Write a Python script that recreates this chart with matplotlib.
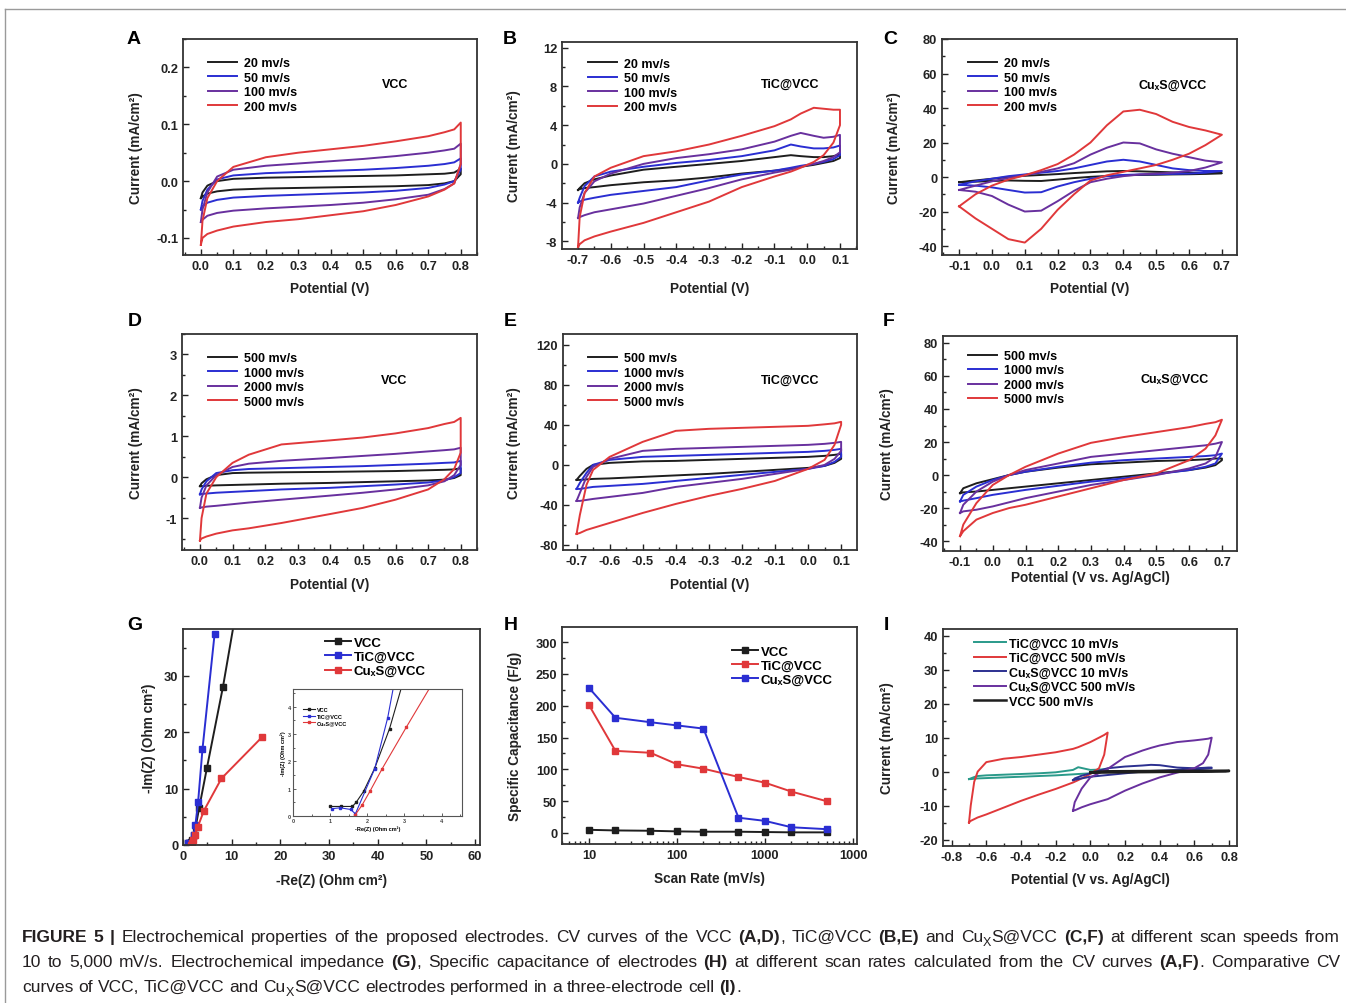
import numpy as np
import matplotlib
matplotlib.use('Agg')
import matplotlib.pyplot as plt
from matplotlib.ticker import MultipleLocator, FormatStrFormatter, FixedLocator, FixedFormatter, LogLocator, NullFormatter
from matplotlib import font_manager
from matplotlib.lines import Line2D

plt.rcParams['font.family'] = ['Liberation Sans', 'DejaVu Sans']
plt.rcParams['font.weight'] = 'bold'
plt.rcParams['axes.labelweight'] = 'bold'
plt.rcParams['axes.unicode_minus'] = False

BLACK = '#1e1e1e'
BLUE = '#2a2ed2'
PURPLE = '#68309e'
RED = '#e0383a'
TEAL = '#2a9a8a'
NAVY = '#2c3090'
cv_colors = [BLACK, BLUE, PURPLE, RED]

# ---------------- data ----------------
labels_slow = ['20 mv/s', '50 mv/s', '100 mv/s', '200 mv/s']
labels_fast = ['500 mv/s', '1000 mv/s', '2000 mv/s', '5000 mv/s']

# A: VCC, slow scans (anodic branch "up", cathodic branch "dn", both left->right)
A_E = [0.0, 0.005, 0.02, 0.05, 0.1, 0.2, 0.3, 0.4, 0.5, 0.6, 0.7, 0.75, 0.78, 0.8]
A_up = [[-0.03, -0.02, -0.008, 0.0, 0.004, 0.006, 0.007, 0.008, 0.009, 0.01, 0.012, 0.013, 0.015, 0.022],
        [-0.05, -0.035, -0.015, 0.003, 0.01, 0.014, 0.016, 0.018, 0.02, 0.023, 0.027, 0.03, 0.033, 0.04],
        [-0.072, -0.05, -0.02, 0.008, 0.02, 0.027, 0.031, 0.035, 0.039, 0.044, 0.05, 0.054, 0.057, 0.066],
        [-0.112, -0.07, -0.03, 0.0, 0.025, 0.042, 0.05, 0.056, 0.062, 0.07, 0.079, 0.086, 0.091, 0.103]]
A_dn = [[-0.03, -0.027, -0.022, -0.018, -0.015, -0.013, -0.012, -0.011, -0.01, -0.009, -0.007, -0.004, 0.0, 0.012],
        [-0.05, -0.045, -0.038, -0.033, -0.029, -0.026, -0.024, -0.022, -0.02, -0.017, -0.012, -0.006, 0.0, 0.02],
        [-0.072, -0.068, -0.061, -0.056, -0.052, -0.048, -0.045, -0.042, -0.038, -0.032, -0.024, -0.014, -0.004, 0.03],
        [-0.112, -0.1, -0.093, -0.087, -0.08, -0.072, -0.067, -0.06, -0.053, -0.042, -0.027, -0.015, -0.004, 0.03]]

# B: TiC@VCC, slow scans
B_E = [-0.7, -0.695, -0.68, -0.65, -0.6, -0.5, -0.4, -0.3, -0.2, -0.1, -0.05, -0.02, 0.02, 0.05, 0.08, 0.1]
B_up = [[-2.7, -2.5, -2.0, -1.6, -1.2, -0.6, -0.3, 0.0, 0.3, 0.7, 0.9, 0.8, 0.7, 0.7, 0.8, 1.0],
        [-4.0, -3.5, -2.3, -1.3, -0.8, -0.3, 0.1, 0.4, 0.8, 1.4, 2.0, 1.8, 1.6, 1.6, 1.7, 1.9],
        [-5.6, -4.5, -3.0, -1.8, -1.0, 0.0, 0.6, 1.0, 1.5, 2.3, 2.9, 3.2, 2.9, 2.7, 2.8, 3.0],
        [-8.6, -5.5, -3.0, -1.3, -0.4, 0.8, 1.3, 2.0, 2.9, 3.9, 4.6, 5.2, 5.8, 5.7, 5.6, 5.6]]
B_dn = [[-2.7, -2.6, -2.5, -2.4, -2.2, -1.9, -1.7, -1.4, -1.0, -0.7, -0.5, -0.3, -0.1, 0.1, 0.3, 0.6],
        [-4.0, -3.9, -3.7, -3.5, -3.2, -2.8, -2.4, -1.7, -1.1, -0.7, -0.4, -0.2, 0.0, 0.2, 0.5, 0.9],
        [-5.6, -5.5, -5.3, -5.0, -4.7, -4.1, -3.3, -2.5, -1.6, -0.9, -0.6, -0.3, 0.0, 0.3, 0.7, 1.2],
        [-8.6, -8.3, -7.9, -7.5, -7.0, -6.1, -5.0, -3.9, -2.4, -1.3, -0.8, -0.4, 0.2, 0.9, 2.2, 4.0]]

# C: CuxS@VCC, slow scans
C_E = [-0.1, -0.05, 0.0, 0.05, 0.1, 0.15, 0.2, 0.25, 0.3, 0.35, 0.4, 0.45, 0.5, 0.55, 0.6, 0.65, 0.7]
C_up = [[-3, -2, -1, 0, 0.7, 1.2, 1.7, 2.3, 2.8, 3.3, 3.5, 3.3, 3.0, 2.7, 2.5, 2.3, 2.2],
        [-4.5, -2.5, -1.0, 0.5, 1.5, 2.5, 3.5, 5.0, 7.0, 9.0, 10.0, 9.0, 7.0, 5.0, 4.0, 3.5, 3.5],
        [-7.5, -5, -2.5, -0.5, 1.0, 3, 5, 8, 13, 17, 20, 19.5, 16, 13.5, 11.5, 9.5, 8.5],
        [-17, -10, -5, -1.5, 1.0, 4.0, 7.5, 13, 20, 30, 38, 39, 36.5, 32, 29, 27, 24.5]]
C_dn = [[-3, -2.7, -2.3, -2.0, -2.2, -2.3, -1.5, -0.6, 0.1, 0.6, 1.0, 1.2, 1.3, 1.5, 1.6, 1.8, 2.2],
        [-4.5, -5.0, -6.0, -7.5, -9.0, -8.8, -5.5, -3.0, -1.0, 0.5, 1.2, 1.5, 1.6, 1.8, 2.0, 2.5, 3.5],
        [-7.5, -8.5, -11, -16, -20, -19.5, -14, -8, -3, -1, 0.5, 1.5, 2, 2.5, 3.5, 5.5, 8.5],
        [-17, -24, -30, -36, -38, -30, -19, -10, -2, 1, 3, 5, 7, 10, 13.5, 18.5, 24.5]]

# D: VCC, fast scans
D_E = [0.0, 0.005, 0.02, 0.05, 0.1, 0.15, 0.25, 0.4, 0.5, 0.6, 0.7, 0.75, 0.78, 0.8]
D_up = [[-0.22, -0.15, -0.05, 0.05, 0.1, 0.11, 0.12, 0.13, 0.14, 0.15, 0.17, 0.18, 0.19, 0.22],
        [-0.42, -0.3, -0.1, 0.1, 0.17, 0.2, 0.22, 0.25, 0.27, 0.3, 0.33, 0.35, 0.36, 0.4],
        [-0.75, -0.5, -0.2, 0.05, 0.25, 0.33, 0.4, 0.47, 0.52, 0.57, 0.63, 0.66, 0.68, 0.72],
        [-1.55, -1.0, -0.4, 0.0, 0.35, 0.55, 0.8, 0.9, 0.97, 1.07, 1.2, 1.3, 1.35, 1.45]]
D_dn = [[-0.22, -0.22, -0.21, -0.2, -0.19, -0.18, -0.16, -0.14, -0.12, -0.1, -0.08, -0.06, -0.02, 0.05],
        [-0.42, -0.41, -0.4, -0.38, -0.36, -0.34, -0.3, -0.26, -0.22, -0.18, -0.13, -0.08, 0.0, 0.1],
        [-0.75, -0.74, -0.72, -0.7, -0.66, -0.62, -0.55, -0.45, -0.38, -0.3, -0.2, -0.1, 0.05, 0.3],
        [-1.55, -1.5, -1.45, -1.38, -1.3, -1.25, -1.12, -0.9, -0.75, -0.55, -0.3, -0.05, 0.2, 0.6]]

# E: TiC@VCC, fast scans
E_E = [-0.7, -0.69, -0.67, -0.65, -0.6, -0.5, -0.4, -0.3, -0.2, -0.1, 0.0, 0.05, 0.08, 0.1]
E_up = [[-15, -11, -4, 0, 2, 3.5, 4, 5, 6, 7, 8, 9, 10, 11],
        [-24, -18, -8, 0, 5, 8, 9, 10, 11, 12, 13, 14, 15, 16],
        [-36, -28, -12, -2, 6, 14, 16, 17, 18, 19, 20, 21, 22, 23],
        [-69, -50, -20, -5, 8, 23, 34, 36, 37, 38, 39, 40.5, 41.5, 43]]
E_dn = [[-15, -15, -14.5, -14, -13.5, -12, -10.5, -9, -7, -5, -3, -1, 2, 6],
        [-24, -24, -23, -22, -21, -19, -16, -13, -10, -7, -4, -1, 3, 8],
        [-36, -36, -35, -34, -32, -28, -22, -18, -14, -9, -4, 0, 6, 14],
        [-69, -68, -65, -63, -58, -48, -39, -31, -24, -16, -4, 5, 20, 40]]

# F: CuxS@VCC, fast scans
F_E = [-0.1, -0.09, -0.05, 0.0, 0.05, 0.1, 0.2, 0.3, 0.4, 0.5, 0.6, 0.65, 0.68, 0.7]
F_up = [[-11, -8, -5, -2.5, 0, 2, 4.5, 6.5, 7.5, 8.5, 9, 9.5, 10, 10],
        [-16, -12, -7, -3, 0, 2, 5, 7.5, 9, 10, 11, 11.5, 12, 13],
        [-23, -18, -10, -4, 0, 3, 7, 11, 13, 15, 17, 18, 19, 20],
        [-37, -30, -17, -6, 0, 5, 13, 19.5, 23, 26, 29, 31, 32, 33.5]]
F_dn = [[-11, -10.5, -10, -9, -8, -7, -5, -3, -1, 1, 3, 4.5, 6, 9],
        [-16, -15.5, -14, -12, -10.5, -9, -6.5, -4, -2, 0.5, 3, 5, 7, 13],
        [-23, -22, -21, -19, -16.5, -14, -10, -6, -3, 0, 4, 7, 11, 20],
        [-37, -34, -27, -23, -20, -18, -13, -8, -3, 1, 9, 16, 24, 33.5]]

# G: Nyquist
G_names = ['VCC', 'TiC@VCC', 'CuₓS@VCC']
G_colors = [BLACK, BLUE, RED]
G_re = [[1.0, 1.3, 1.6, 1.7, 1.9, 2.2, 2.6, 3.3, 4.9, 8.2, 10.6],
        [1.05, 1.27, 1.55, 1.68, 2.2, 2.55, 3.1, 4.0, 6.5],
        [1.68, 1.86, 2.07, 2.4, 3.05, 4.3, 7.9, 16.2]]
G_im = [[0.35, 0.35, 0.35, 0.5, 0.9, 1.75, 3.2, 6.5, 13.6, 28.0, 40.0],
        [0.27, 0.3, 0.24, 0.08, 1.73, 3.6, 7.6, 17.0, 37.5],
        [0.05, 0.4, 0.9, 1.73, 3.25, 6.1, 11.8, 19.1]]

# H: specific capacitance
H_rate = [10, 20, 50, 100, 200, 500, 1000, 2000, 5000]
H_names = ['VCC', 'TiC@VCC', 'CuₓS@VCC']
H_colors = [BLACK, RED, BLUE]
H_cap = [[5, 4, 3.5, 2.5, 2, 2, 1.5, 1, 1],
         [201, 129, 126, 108, 101, 88, 79, 65, 50],
         [228, 181, 174, 169, 164, 24, 19, 9, 6]]
H_xticks = [10, 100, 1000, 10000]
H_xticklabels = ['10', '100', '1000', '1000']

# I: comparison
I_tic_E = [-0.7, -0.69, -0.67, -0.65, -0.6, -0.5, -0.4, -0.3, -0.2, -0.1, -0.07, 0.0, 0.05, 0.08, 0.1]
I_tic10_up = [-2.2, -2.0, -1.6, -1.3, -1.1, -0.9, -0.7, -0.5, -0.2, 0.5, 1.3, 0.5, 0.6, 0.7, 0.8]
I_tic10_dn = [-2.2, -2.2, -2.1, -2.0, -1.9, -1.7, -1.5, -1.3, -1.1, -0.8, -0.7, -0.5, -0.2, 0.0, 0.3]
I_tic500_up = [-15, -10, -3, 0, 2.8, 3.8, 4.3, 5.0, 5.7, 6.7, 7.2, 8.7, 10.0, 10.8, 11.5]
I_tic500_dn = [-15, -14.5, -14, -13.5, -12.6, -10.6, -8.6, -6.8, -5.1, -3.2, -2.5, -0.7, 1.0, 5.0, 11.5]
I_cu_E = [-0.1, -0.09, -0.05, 0.0, 0.1, 0.2, 0.3, 0.35, 0.4, 0.5, 0.6, 0.65, 0.68, 0.7]
I_cu10_up = [-2.5, -2.0, -1.2, -0.5, 1.0, 1.5, 1.8, 2.0, 1.9, 1.2, 1.0, 1.1, 1.2, 1.2]
I_cu10_dn = [-2.5, -2.4, -2.0, -1.5, -1.0, -0.5, 0.0, 0.2, 0.3, 0.5, 0.7, 0.8, 0.9, 1.0]
I_cu500_up = [-11.5, -9, -5, -1.7, 0.8, 4.3, 6.2, 7.0, 7.7, 8.7, 9.2, 9.5, 9.7, 10.0]
I_cu500_dn = [-11.5, -11.4, -10.5, -9.6, -8.1, -5.6, -3.5, -2.6, -1.7, -0.3, 1.0, 2.5, 5.0, 10.0]
I_vcc_E = [0.0, 0.02, 0.1, 0.4, 0.7, 0.78, 0.8]
I_vcc500_up = [-0.3, -0.1, 0.1, 0.2, 0.25, 0.28, 0.3]
I_vcc500_dn = [-0.3, -0.3, -0.25, -0.1, 0.0, 0.05, 0.15]
I_labels = ['TiC@VCC 10 mV/s', 'TiC@VCC 500 mV/s', 'CuₓS@VCC 10 mV/s', 'CuₓS@VCC 500 mV/s', 'VCC 500 mV/s']

# ---------------- figure ----------------
W, H = 1346, 1004
fig = plt.figure(figsize=(W / 100, H / 100), dpi=100)
fig.patch.set_facecolor('white')

# page frame
fig.add_artist(Line2D([5 / W, 1], [1 - 10 / H, 1 - 10 / H], color='#9a9a9a', lw=1))
fig.add_artist(Line2D([5 / W, 5 / W], [1 - 10 / H, 0], color='#9a9a9a', lw=1))

LW = 1.4


def add_ax(box):
    x0, y0, x1, y1 = box
    ax = fig.add_axes([x0 / W, 1 - y1 / H, (x1 - x0) / W, (y1 - y0) / H])
    for s in ax.spines.values():
        s.set_linewidth(1.3)
        s.set_color('#333333')
    ax.tick_params(which='both', direction='in', top=False, right=False,
                   labelsize=9.3, width=1, colors='#222222')
    ax.tick_params(which='major', length=4)
    ax.tick_params(which='minor', length=2.5)
    return ax


def set_labels(ax, box, xlabel, ylabel, xlab_y, ylab_x, size=9.8):
    x0, y0, x1, y1 = box
    ax.set_xlabel(xlabel, fontsize=size, color='#222222')
    ax.set_ylabel(ylabel, fontsize=size, color='#222222')
    ax.xaxis.set_label_coords(0.5, (y1 - (xlab_y - 6)) / (y1 - y0))
    ax.yaxis.set_label_coords(((ylab_x + 6) - x0) / (x1 - x0), 0.5)


def ticks(ax, xlim, ylim, xmaj, xmin, ymaj, ymin, xfmt, yfmt):
    ax.set_xlim(*xlim)
    ax.set_ylim(*ylim)
    ax.xaxis.set_major_locator(MultipleLocator(xmaj))
    ax.xaxis.set_minor_locator(MultipleLocator(xmin))
    ax.yaxis.set_major_locator(MultipleLocator(ymaj))
    ax.yaxis.set_minor_locator(MultipleLocator(ymin))
    ax.xaxis.set_major_formatter(FormatStrFormatter(xfmt))
    ax.yaxis.set_major_formatter(FormatStrFormatter(yfmt))


def cv(ax, E, up, dn, color, label, lw=LW):
    x = list(E) + list(E[::-1]) + [E[0]]
    y = list(up) + list(dn[::-1]) + [up[0]]
    ax.plot(x, y, color=color, lw=lw, label=label, solid_joinstyle='round')


def letter(x, y, s):
    fig.text(x / W, 1 - y / H, s, fontsize=14, weight='bold', ha='center', va='center')


def cv_panel(box, E, ups, dns, labels, tag, tag_xy, leg_xy):
    ax = add_ax(box)
    for up, dn, c, lab in zip(ups, dns, cv_colors, labels):
        cv(ax, E, up, dn, c, lab)
    ax.legend(loc='upper left', bbox_to_anchor=leg_xy, frameon=False, fontsize=9,
              handlelength=2.3, labelspacing=0.2, borderaxespad=0, borderpad=0,
              handletextpad=0.6)
    ax.text(tag_xy[0], tag_xy[1], tag, transform=ax.transAxes, fontsize=9,
            weight='bold', ha='center', va='center')
    return ax


boxes = {'A': (183, 40, 477, 256), 'B': (562, 43, 857, 250), 'C': (942, 40, 1237, 256),
         'D': (182, 335, 477, 551), 'E': (563, 335, 857, 551), 'F': (943, 337, 1237, 552),
         'G': (183, 630, 480, 846), 'H': (562, 628, 857, 845), 'I': (943, 630, 1237, 847)}

cur = 'Current (mA/cm²)'

# A
ax = cv_panel(boxes['A'], A_E, A_up, A_dn, labels_slow, 'VCC', (0.72, 0.79), (0.085, 0.915))
ticks(ax, (-0.055, 0.85), (-0.13, 0.25), 0.1, 0.05, 0.1, 0.05, '%.1f', '%.1f')
set_labels(ax, boxes['A'], 'Potential (V)', cur, 288, 137)
letter(134, 40, 'A')

# B
ax = cv_panel(boxes['B'], B_E, B_up, B_dn, labels_slow, 'TiC@VCC', (0.773, 0.797), (0.088, 0.925))
ticks(ax, (-0.749, 0.152), (-8.8, 12.6), 0.1, 0.05, 4, 2, '%.1f', '%d')
set_labels(ax, boxes['B'], 'Potential (V)', cur, 288, 515)
letter(510, 40, 'B')

# C
ax = cv_panel(boxes['C'], C_E, C_up, C_dn, labels_slow, 'CuₓS@VCC', (0.783, 0.79), (0.088, 0.915))
ticks(ax, (-0.152, 0.746), (-45.2, 80), 0.1, 0.05, 20, 10, '%.1f', '%d')
set_labels(ax, boxes['C'], 'Potential (V)', cur, 288, 895)
letter(890, 40, 'C')

# D
ax = cv_panel(boxes['D'], D_E, D_up, D_dn, labels_fast, 'VCC', (0.72, 0.787), (0.088, 0.915))
ticks(ax, (-0.055, 0.85), (-1.78, 3.5), 0.1, 0.05, 1, 0.5, '%.1f', '%d')
set_labels(ax, boxes['D'], 'Potential (V)', cur, 584, 137)
letter(135, 322, 'D')

# E
ax = cv_panel(boxes['E'], E_E, E_up, E_dn, labels_fast, 'TiC@VCC', (0.772, 0.787), (0.085, 0.915))
ticks(ax, (-0.741, 0.148), (-85, 130.7), 0.1, 0.05, 40, 20, '%.1f', '%d')
set_labels(ax, boxes['E'], 'Potential (V)', cur, 584, 515)
letter(510, 322, 'E')

# F
ax = cv_panel(boxes['F'], F_E, F_up, F_dn, labels_fast, 'CuₓS@VCC', (0.789, 0.8), (0.085, 0.935))
ticks(ax, (-0.152, 0.746), (-46, 84.2), 0.1, 0.05, 20, 10, '%.1f', '%d')
set_labels(ax, boxes['F'], 'Potential (V vs. Ag/AgCl)', cur, 577, 888)
letter(889, 322, 'F')

# G
ax = add_ax(boxes['G'])
for re, im, c, name in zip(G_re, G_im, G_colors, G_names):
    ax.plot(re, im, color=c, lw=LW, marker='s', ms=4, label=name)
ticks(ax, (0, 61), (0, 38.3), 10, 5, 10, 5, '%d', '%d')
ax.legend(loc='upper left', bbox_to_anchor=(0.478, 0.965), frameon=False, fontsize=9.5,
          handlelength=2.0, labelspacing=0.15, borderaxespad=0, borderpad=0,
          handletextpad=0.2, numpoints=1)
set_labels(ax, boxes['G'], '-Re(Z) (Ohm cm²)', '-Im(Z) (Ohm cm²)', 880, 150)
letter(135, 626, 'G')

ibox = (293, 690, 462, 817)
ia = fig.add_axes([ibox[0] / W, 1 - ibox[3] / H, (ibox[2] - ibox[0]) / W, (ibox[3] - ibox[1]) / H])
for re, im, c, name in zip(G_re, G_im, G_colors, G_names):
    ia.plot(re, im, color=c, lw=0.8, marker='s', ms=1.8, label=name)
ia.set_xlim(0, 4.55)
ia.set_ylim(0, 4.65)
ia.xaxis.set_major_locator(MultipleLocator(1))
ia.xaxis.set_minor_locator(MultipleLocator(0.5))
ia.yaxis.set_major_locator(MultipleLocator(1))
ia.yaxis.set_minor_locator(MultipleLocator(0.5))
ia.tick_params(which='both', direction='in', top=False, right=False, labelsize=4,
               width=0.6, pad=1.5, colors='#444444')
ia.tick_params(which='major', length=2.5)
ia.tick_params(which='minor', length=1.5)
for s in ia.spines.values():
    s.set_linewidth(0.8)
    s.set_color('#555555')
ia.set_xlabel('-Re(Z) (Ohm cm²)', fontsize=4, labelpad=1.5)
ia.set_ylabel('-Im(Z) (Ohm cm²)', fontsize=4, labelpad=1.5)
ia.legend(loc='upper left', bbox_to_anchor=(0.06, 0.86), frameon=False, fontsize=4,
          handlelength=2.2, labelspacing=0.3, borderaxespad=0, borderpad=0,
          handletextpad=0.3, numpoints=1)

# H
ax = add_ax(boxes['H'])
for cap, c, name in zip(H_cap, H_colors, H_names):
    ax.plot(H_rate, cap, color=c, lw=LW, marker='s', ms=4, label=name)
ax.set_xscale('log')
ax.set_xlim(4.94, 11100)
ax.set_ylim(-17.3, 323.6)
ax.xaxis.set_major_locator(FixedLocator(H_xticks))
ax.xaxis.set_major_formatter(FixedFormatter(H_xticklabels))
ax.xaxis.set_minor_locator(LogLocator(base=10, subs=np.arange(2, 10)))
ax.xaxis.set_minor_formatter(NullFormatter())
ax.yaxis.set_major_locator(MultipleLocator(50))
ax.yaxis.set_minor_locator(MultipleLocator(25))
ax.yaxis.set_major_formatter(FormatStrFormatter('%d'))
ax.legend(loc='upper left', bbox_to_anchor=(0.575, 0.915), frameon=False, fontsize=9.5,
          handlelength=2.0, labelspacing=0.15, borderaxespad=0, borderpad=0,
          handletextpad=0.2, numpoints=1)
set_labels(ax, boxes['H'], 'Scan Rate (mV/s)', 'Specific Capacitance (F/g)', 878, 516)
letter(511, 626, 'H')

# I
ax = add_ax(boxes['I'])
cv(ax, I_tic_E, I_tic10_up, I_tic10_dn, TEAL, I_labels[0])
cv(ax, I_tic_E, I_tic500_up, I_tic500_dn, RED, I_labels[1])
cv(ax, I_cu_E, I_cu10_up, I_cu10_dn, NAVY, I_labels[2])
cv(ax, I_cu_E, I_cu500_up, I_cu500_dn, PURPLE, I_labels[3])
cv(ax, I_vcc_E, I_vcc500_up, I_vcc500_dn, BLACK, I_labels[4], lw=1.8)
ticks(ax, (-0.85, 0.846), (-21.9, 42), 0.2, 0.1, 10, 5, '%.1f', '%d')
ax.legend(loc='upper left', bbox_to_anchor=(0.105, 0.96), frameon=False, fontsize=9,
          handlelength=2.6, labelspacing=0.2, borderaxespad=0, borderpad=0,
          handletextpad=0.2)
set_labels(ax, boxes['I'], 'Potential (V vs. Ag/AgCl)', cur, 879, 888)
letter(886, 626, 'I')

# ---------------- caption ----------------
cap_lines = [
    "**FIGURE 5 |** Electrochemical properties of the proposed electrodes. CV curves of the VCC **(A,D)**, "
    "TiC@VCC **(B,E)** and Cu_XS@VCC **(C,F)** at different scan speeds from",
    "10 to 5,000 mV/s. Electrochemical impedance **(G)**, Specific capacitance of electrodes **(H)** at "
    "different scan rates calculated from the CV curves **(A,F)**. Comparative CV",
    "curves of VCC, TiC@VCC and Cu_XS@VCC electrodes performed in a three-electrode cell **(I)**.",
]
cap_base = [942, 967, 992]
cap_left, cap_right = 22, 1340

names = {f.name for f in font_manager.fontManager.ttflist}
cap_family = 'Liberation Sans Narrow' if 'Liberation Sans Narrow' in names else 'Liberation Sans'


def parse_line(s):
    words = []
    bold = False
    for w in s.split(' '):
        runs = []
        parts = w.split('**')
        for i, p in enumerate(parts):
            if i > 0:
                bold = not bold
            if p:
                sub = p.split('_X')
                for j, q in enumerate(sub):
                    if j > 0:
                        runs.append(('X', 'sub'))
                    if q:
                        runs.append((q, 'bold' if bold else 'normal'))
        words.append(runs)
    return words


renderer = fig.canvas.get_renderer()


def run_width(text, style, fs):
    size = fs * 0.72 if style == 'sub' else fs
    wt = 'bold' if style == 'bold' else 'normal'
    t = fig.text(0, 0, '|' + text + '|', fontsize=size, weight=wt, family=cap_family)
    t2 = fig.text(0, 0, '||', fontsize=size, weight=wt, family=cap_family)
    w = t.get_window_extent(renderer).width - t2.get_window_extent(renderer).width
    t.remove()
    t2.remove()
    return w


parsed = [parse_line(s) for s in cap_lines]
fs = 12.5
target = cap_right - cap_left
while fs > 8:
    space = run_width('a b', 'normal', fs) - run_width('ab', 'normal', fs)
    widths = [sum(run_width(t, st, fs) for t, st in w) for w in parsed[0]]
    if sum(widths) + space * (len(widths) - 1) <= target:
        break
    fs -= 0.25
space = run_width('a b', 'normal', fs) - run_width('ab', 'normal', fs)

for k, words in enumerate(parsed):
    wlist = [[run_width(t, st, fs) for t, st in w] for w in words]
    total = sum(sum(r) for r in wlist)
    gap = (target - total) / (len(words) - 1) if k < 2 else space
    x = cap_left
    yb = cap_base[k]
    for w, rw in zip(words, wlist):
        for (t, st), wd in zip(w, rw):
            if st == 'sub':
                fig.text(x / W, 1 - (yb + fs * 0.35) / H, t, fontsize=fs * 0.72, weight='normal',
                         family=cap_family, va='baseline', color='#231f20')
            else:
                fig.text(x / W, 1 - yb / H, t, fontsize=fs, weight=st, family=cap_family,
                         va='baseline', color='#231f20')
            x += wd
        x += gap

fig.savefig('out.png', dpi=100)
